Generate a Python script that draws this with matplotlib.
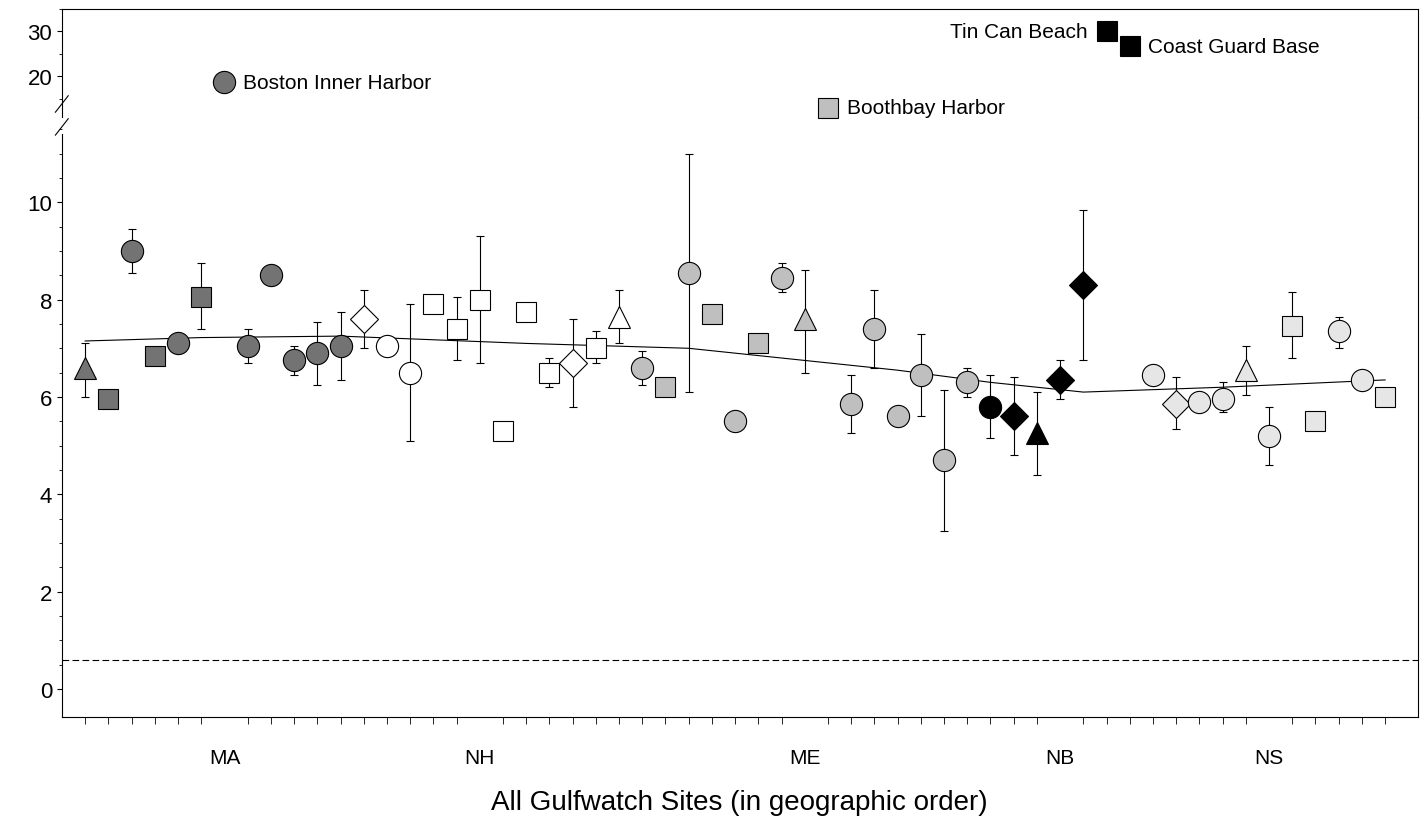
import matplotlib
matplotlib.use("Agg")
import matplotlib.pyplot as plt

plt.rcParams['font.family'] = ['Liberation Sans', 'DejaVu Sans']

sites = list(range(1, 58))
values = [6.6, 5.95, 9.0, 6.85, 7.1, 8.05, 18.7, 7.05, 8.5, 6.75, 6.9, 7.05, 7.6, 7.05, 6.5,
          7.9, 7.4, 8.0, 5.3, 7.75, 6.5, 6.7, 7.0, 7.65, 6.6, 6.2, 8.55, 7.7, 5.5, 7.1,
          8.45, 7.6, 13.1, 5.85, 7.4, 5.6, 6.45, 4.7, 6.3, 5.8, 5.6, 5.25, 6.35, 8.3, 30.0,
          26.7, 6.45, 5.85, 5.9, 5.95, 6.55, 5.2, 7.45, 5.5, 7.35, 6.35, 6.0]
markers = ['^', 's', 'o', 's', 'o', 's', 'o', 'o', 'o', 'o', 'o', 'o', 'D', 'o', 'o',
           's', 's', 's', 's', 's', 's', 'D', 's', '^', 'o', 's', 'o', 's', 'o', 's',
           'o', '^', 's', 'o', 'o', 'o', 'o', 'o', 'o', 'o', 'D', '^', 'D', 'D', 's',
           's', 'o', 'D', 'o', 'o', '^', 'o', 's', 's', 'o', 'o', 's']
fills = ['0.45'] * 12 + ['white'] * 12 + ['0.75'] * 15 + ['black'] * 7 + ['0.9'] * 11
err_hi = [7.1, 6.05, 9.45, 7.0, None, 8.75, None, 7.4, None, 7.05, 7.55, 7.75, 8.2, None, 7.9,
          None, 8.05, 9.3, None, None, 6.8, 7.6, 7.35, 8.2, 6.95, None, 11.0, None, None, None,
          8.75, 8.6, None, 6.45, 8.2, None, 7.3, 6.15, 6.6, 6.45, 6.4, 6.1, 6.75, 9.85, None,
          None, None, 6.4, None, 6.3, 7.05, 5.8, 8.15, None, 7.65, None, None]
err_lo = [6.0, 5.85, 8.55, 6.7, None, 7.4, None, 6.7, None, 6.45, 6.25, 6.35, 7.0, None, 5.1,
          None, 6.75, 6.7, None, None, 6.2, 5.8, 6.7, 7.1, 6.25, None, 6.1, None, None, None,
          8.15, 6.5, None, 5.25, 6.6, None, 5.6, 3.25, 6.0, 5.15, 4.8, 4.4, 5.95, 6.75, None,
          None, None, 5.35, None, 5.7, 6.05, 4.6, 6.8, None, 7.0, None, None]
labels = {7: "Boston Inner Harbor", 33: "Boothbay Harbor", 45: "Tin Can Beach", 46: "Coast Guard Base"}

trend_x = [1, 6, 12, 20, 27, 32, 36, 40, 44, 50, 57]
trend_y = [7.15, 7.22, 7.25, 7.1, 7.0, 6.75, 6.55, 6.3, 6.1, 6.2, 6.35]
detect_limit = 0.6
regions = ["MA", "NH", "ME", "NB", "NS"]
region_pos = [7, 18, 32, 43, 52]

fig = plt.figure(figsize=(14.21, 8.2), dpi=100)
ax = fig.add_axes([0.0436, 0.1244, 0.954, 0.7316])
ax_top = fig.add_axes([0.0436, 0.856, 0.954, 0.132])
ax_top.patch.set_visible(False)

for i, v, m, f, lo, hi in zip(sites, values, markers, fills, err_lo, err_hi):
    target = ax_top if v > 12 else ax
    ms = {'D': 14, 's': 15}.get(m, 16)
    if hi is not None:
        target.errorbar(i, v, yerr=[[v - lo], [hi - v]], fmt='none', ecolor='black',
                        elinewidth=0.8, capsize=3, capthick=0.8, zorder=2)
    target.plot(i, v, marker=m, ms=ms, mfc=f, mec='black', mew=0.8, ls='none',
                zorder=3, clip_on=False)

for i, txt in labels.items():
    v = values[i - 1]
    if i == 45:
        ax_top.text(i - 0.8, v, txt, ha='right', va='center', fontsize=15)
    else:
        ax_top.text(i + 0.8, v, txt, ha='left', va='center', fontsize=15)

ax.plot(trend_x, trend_y, color='black', lw=0.8)
ax.axhline(detect_limit, color='black', lw=0.8, ls=(0, (6, 3)))

xlim = (0, 58.4)
ax.set_xlim(*xlim)
ax_top.set_xlim(*xlim)
ax.set_ylim(-0.575, 11.75)
ax_top.set_ylim(11, 35)

ax.set_yticks([0, 2, 4, 6, 8, 10])
ax.set_yticks([y * 0.5 for y in range(0, 24)], minor=True)
ax_top.set_yticks([20, 30])
ax_top.set_yticks([15, 25, 35], minor=True)
ax.set_xticks(region_pos)
ax.set_xticklabels(regions)
ax.set_xticks(sites, minor=True)
ax.tick_params(axis='x', which='major', length=0, pad=22, labelsize=15)
ax.tick_params(axis='x', which='minor', length=5)
ax.tick_params(axis='y', labelsize=16)
ax_top.tick_params(axis='y', labelsize=16)
ax_top.set_xticks([])

ax.spines['top'].set_visible(False)
ax_top.spines['bottom'].set_visible(False)
ax.spines['left'].set_bounds(-0.575, 11.4)

# break marks
d = dict(transform=fig.transFigure, color='black', lw=0.8, clip_on=False)
fig.lines.append(plt.Line2D([0.039, 0.048], [0.862, 0.882], **d))
fig.lines.append(plt.Line2D([0.039, 0.048], [0.834, 0.854], **d))

ax.set_xlabel("All Gulfwatch Sites (in geographic order)", fontsize=20, labelpad=16)

fig.savefig("out.png", dpi=100)
